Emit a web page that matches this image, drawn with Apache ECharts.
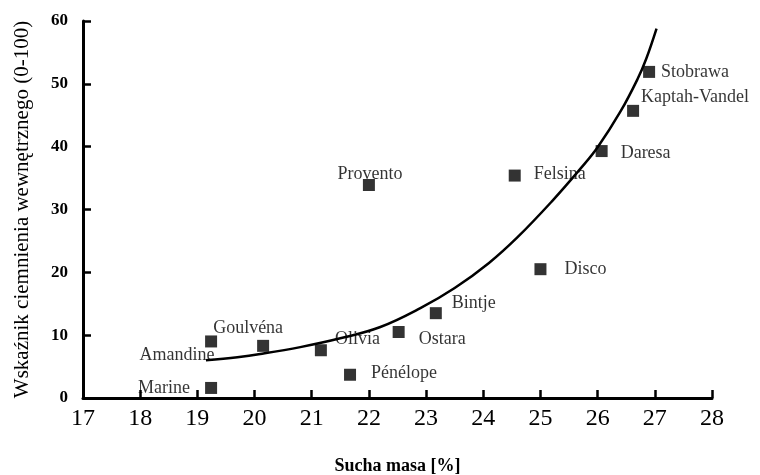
<!DOCTYPE html>
<html>
<head>
<meta charset="utf-8">
<script src="https://cdn.jsdelivr.net/npm/echarts@6/dist/echarts.min.js"></script>
<style>html,body{margin:0;padding:0;background:#fff}#c{width:760px;height:475px}</style>
</head>
<body>
<div id="c"></div>
<script>
// ---- data ----
var varieties = ['Marine','Amandine','Goulvéna','Olivia','Pénélope','Ostara','Bintje','Provento','Felsina','Disco','Daresa','Kaptah-Vandel','Stobrawa'];
var dryMatter = [19.24, 19.24, 20.15, 21.16, 21.67, 22.52, 23.17, 22.0, 24.55, 25.0, 26.07, 26.62, 26.9];
var darkening = [1.6, 9.0, 8.3, 7.6, 3.7, 10.5, 13.5, 33.9, 35.4, 20.5, 39.3, 45.7, 51.9];
var trendX = [19.15, 19.7, 20.1, 20.8, 21.5, 22.2, 22.9, 23.5, 24.1, 24.6, 25.2, 25.7, 26.0, 26.4, 26.7, 26.85, 27.03];
var trendY = [6.0, 6.5, 7.0, 8.1, 9.5, 11.3, 14.3, 17.5, 21.5, 25.6, 31.3, 36.5, 39.9, 45.6, 50.8, 54.0, 58.8];
var xTicks = [17, 28, 1];
var yTicks = [0, 60, 10];

// ---- label placement (styling) ----
var labelPlace = {
  'Marine':        {position:'left', distance:15, offset:[0,0]},
  'Amandine':      {position:'inside', offset:[-34,14]},
  'Goulvéna':      {position:'inside', offset:[-15,-18]},
  'Olivia':        {position:'right', distance:8, offset:[0,-11]},
  'Pénélope':      {position:'right', distance:15, offset:[0,-1]},
  'Ostara':        {position:'right', distance:14, offset:[0,7]},
  'Bintje':        {position:'right', distance:10, offset:[0,-10]},
  'Provento':      {position:'inside', offset:[1,-11]},
  'Felsina':       {position:'right', distance:13, offset:[0,-1]},
  'Disco':         {position:'right', distance:18, offset:[0,0]},
  'Daresa':        {position:'right', distance:13, offset:[0,2]},
  'Kaptah-Vandel': {position:'right', distance:2, offset:[0,-14]},
  'Stobrawa':      {position:'right', distance:6, offset:[0,0]}
};

var pts = varieties.map(function(n,i){
  var lp = labelPlace[n];
  return {
    name: n,
    value: [dryMatter[i], darkening[i]],
    label: Object.assign({show:true, formatter:n, color:'#000', fontFamily:'Liberation Serif', fontSize:18}, lp)
  };
});
var trend = trendX.map(function(x,i){return [x, trendY[i]];});

var chart = echarts.init(document.getElementById('c'), null, {renderer:'canvas'});
chart.setOption({
  animation:false,
  backgroundColor:'#fff',
  grid:{left:83, right:48, top:21, bottom:77, containLabel:false, outerBoundsMode:'none'},
  xAxis:{
    type:'value', min:xTicks[0], max:xTicks[1], interval:xTicks[2],
    name:'Sucha masa [%]', nameLocation:'middle', nameGap:59,
    nameTextStyle:{fontFamily:'Liberation Serif', fontSize:18, fontWeight:'bold', color:'#000'},
    axisLine:{lineStyle:{color:'#000', width:3}},
    axisTick:{inside:true, length:8, lineStyle:{color:'#000', width:2.5}},
    axisLabel:{margin:9, fontFamily:'Liberation Serif', fontSize:24, color:'#000'},
    splitLine:{show:false}
  },
  yAxis:{
    type:'value', min:yTicks[0], max:yTicks[1], interval:yTicks[2],
    name:'Wskaźnik ciemnienia wewnętrznego (0-100)', nameLocation:'middle', nameGap:50, nameRotate:90,
    nameTextStyle:{fontFamily:'Liberation Serif', fontSize:21, color:'#000'},
    axisLine:{show:true, lineStyle:{color:'#000', width:3}},
    axisTick:{show:true, inside:true, length:8, lineStyle:{color:'#000', width:2.5}},
    axisLabel:{margin:15, fontFamily:'Liberation Serif', fontSize:17, fontWeight:'bold', color:'#000'},
    splitLine:{show:false}
  },
  series:[
    {
      type:'line', data:trend, smooth:0.4, showSymbol:false, symbol:'none',
      lineStyle:{color:'#000', width:2.5}, z:2
    },
    {
      type:'scatter', data:pts, symbol:'rect', symbolSize:12,
      itemStyle:{color:'#000'}, z:3
    }
  ]
});
</script>
</body>
</html>
